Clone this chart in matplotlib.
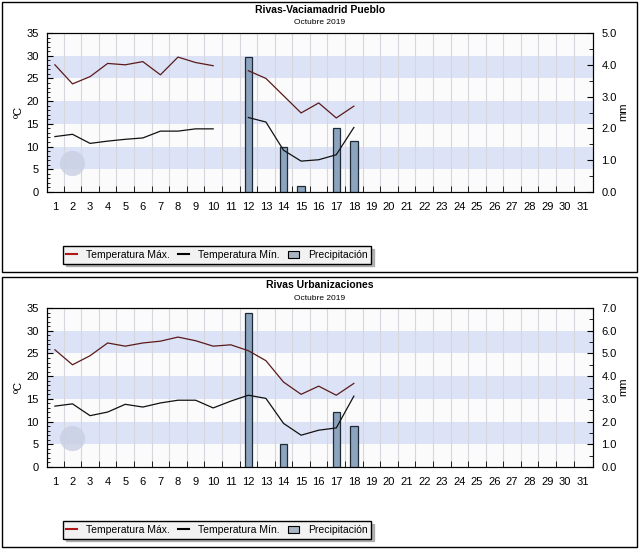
import numpy as np
import matplotlib.pyplot as plt
from matplotlib.patches import Rectangle, Patch
from matplotlib.lines import Line2D

plt.rcParams['font.family'] = ['Liberation Sans', 'DejaVu Sans']

nan = np.nan
days = np.arange(1, 32)
day_labels = [str(d) for d in days]

# Rivas-Vaciamadrid Pueblo, Octubre 2019
pueblo_tmax = [28.0, 23.8, 25.4, 28.3, 28.0, 28.7, 25.8, 29.7, 28.5, 27.8, nan,
               26.7, 25.0, 21.2, 17.4, 19.6, 16.3, 18.9] + [nan] * 13
pueblo_tmin = [12.2, 12.7, 10.7, 11.2, 11.6, 11.9, 13.4, 13.4, 13.9, 13.9, nan,
               16.4, 15.4, 9.2, 6.8, 7.1, 8.2, 14.2] + [nan] * 13
pueblo_rain = [0] * 11 + [4.25, 0, 1.4, 0.2, 0, 2.0, 1.6] + [0] * 13

# Rivas Urbanizaciones, Octubre 2019
urb_tmax = [25.8, 22.5, 24.5, 27.3, 26.6, 27.3, 27.7, 28.6, 27.8, 26.6, 26.9,
            25.6, 23.4, 18.7, 16.0, 17.8, 15.8, 18.4] + [nan] * 13
urb_tmin = [13.4, 13.9, 11.3, 12.1, 13.8, 13.2, 14.1, 14.7, 14.7, 13.0, 14.5,
            15.8, 15.1, 9.6, 7.0, 8.1, 8.6, 15.6] + [nan] * 13
urb_rain = [0] * 11 + [6.8, 0, 1.0, 0, 0, 2.4, 1.8] + [0] * 13

W, H = 640, 552
max_color = '#5a1a1a'
min_color = '#111111'
bar_color = '#8ca4be'
band_color = '#dde3f6'

fig = plt.figure(figsize=(W / 100, H / 100), dpi=100)


def rect(x0, y0, x1, y1):
    return [x0 / W, 1 - y1 / H, (x1 - x0) / W, (y1 - y0) / H]


def panel(y0, title, tmax, tmin, rain, rain_top):
    # outer frame
    fig.add_artist(Rectangle((2 / W, 1 - (y0 + 270) / H), 635 / W, 270 / H,
                             transform=fig.transFigure, fill=False,
                             ec='black', lw=1))
    fig.text(320 / W, 1 - (y0 + 8) / H, title, ha='center', va='center',
             fontsize=7.5, fontweight='bold')
    fig.text(320 / W, 1 - (y0 + 21) / H, 'Octubre 2019', ha='center',
             va='center', fontsize=6)

    pos = rect(47, y0 + 31, 593, y0 + 190)
    ax = fig.add_axes(pos)
    ax.set_facecolor('#fbfbfb')
    ax.set_xlim(0.55, 31.6)
    ax.set_ylim(0, 35)
    for lo in (5, 15, 25):
        ax.axhspan(lo, lo + 5, color=band_color, lw=0, zorder=0)
    ax.set_xticks(days)
    ax.set_xticklabels(day_labels)
    ax.set_xticks(np.arange(1.5, 31.5, 1), minor=True)
    ax.grid(axis='x', which='minor', color='#d6d6dc', lw=0.8, zorder=0.5)
    ax.set_axisbelow(True)
    ax.tick_params(axis='x', which='major', length=0, labelsize=8, pad=7)
    ax.tick_params(axis='x', which='minor', direction='in', length=4)
    ax.set_yticks(np.arange(0, 36, 5))
    ax.set_yticks(np.arange(0, 36, 1), minor=True)
    ax.tick_params(axis='y', which='major', direction='in', length=4,
                   labelsize=8, pad=6)
    ax.tick_params(axis='y', which='minor', direction='in', length=2)
    # faint logo
    ax.scatter([1.95], [6.3], s=330, color='#c8d0e4', alpha=0.8, lw=0,
               zorder=1)

    axp = ax.twinx()
    axp.set_ylim(0, rain_top)
    r = np.array(rain, dtype=float)
    wet = r > 0
    axp.bar(days[wet], r[wet], width=0.42, color=bar_color,
            edgecolor='#1e2a36', lw=0.9, zorder=2)
    axp.set_yticks(np.arange(0, rain_top + 0.01, 1))
    axp.set_yticklabels(['%.1f' % v for v in np.arange(0, rain_top + 0.01, 1)])
    axp.set_yticks(np.arange(0, rain_top + 0.01, 0.5), minor=True)
    axp.tick_params(axis='y', which='major', direction='in', length=4,
                    labelsize=8, pad=6)
    axp.tick_params(axis='y', which='minor', direction='in', length=3)

    axt = fig.add_axes(pos, sharex=ax, sharey=ax)
    axt.patch.set_visible(False)
    axt.axis('off')
    axt.set_zorder(axp.get_zorder() + 1)
    axt.plot(days, tmax, color=max_color, lw=0.9)
    axt.plot(days, tmin, color=min_color, lw=0.9)

    fig.text(19 / W, 1 - (y0 + 110) / H, 'ºC', rotation=90, ha='center',
             va='center', fontsize=8)
    fig.text(623 / W, 1 - (y0 + 110) / H, 'mm', rotation=90, ha='center',
             va='center', fontsize=8)

    handles = [Line2D([], [], color='#b01818', lw=1.5),
               Line2D([], [], color='black', lw=1.5),
               Patch(facecolor='#a8b4c2', edgecolor='black', lw=0.8)]
    fig.legend(handles, ['Temperatura Máx.', 'Temperatura Mín.', 'Precipitación'],
               loc='center', bbox_to_anchor=(217 / W, 1 - (y0 + 253) / H),
               ncol=3, fontsize=7.5, frameon=True, fancybox=False,
               edgecolor='black', facecolor='#f2f2f2', framealpha=1,
               shadow={'color': '0.6', 'alpha': 0.7, 'ox': 2, 'oy': -2},
               handlelength=1.0, handletextpad=0.9, columnspacing=0.8,
               borderpad=0.35, borderaxespad=0)


panel(2, 'Rivas-Vaciamadrid Pueblo', pueblo_tmax, pueblo_tmin, pueblo_rain, 5)
panel(277, 'Rivas Urbanizaciones', urb_tmax, urb_tmin, urb_rain, 7)

fig.savefig('out.png', dpi=100, facecolor='white')
